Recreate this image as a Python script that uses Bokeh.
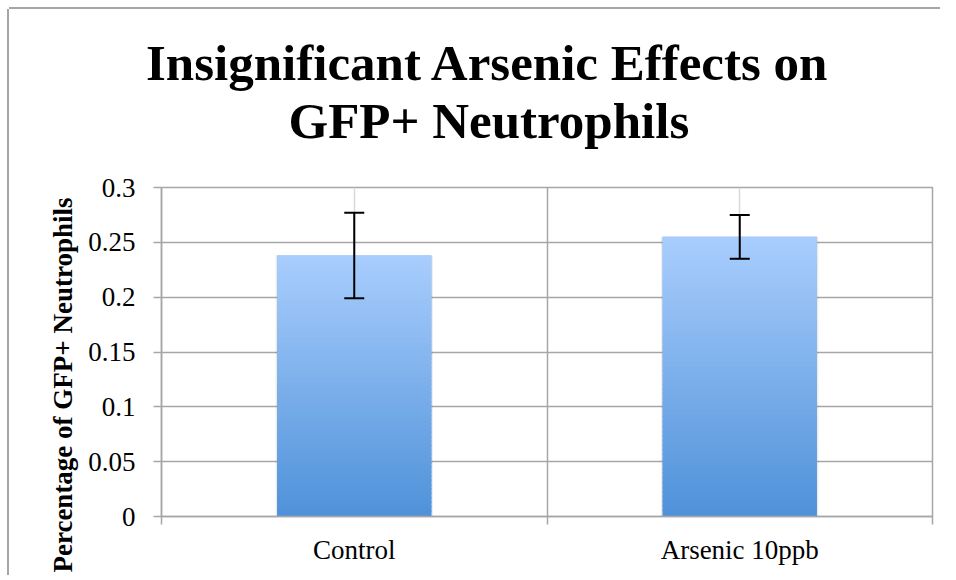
import math
from bokeh.plotting import figure
from bokeh.models import (ColumnDataSource, FactorRange, Range1d, FixedTicker,
                          LinearAxis, Grid, Whisker, TeeHead, Title)
from bokeh.embed import file_html
from bokeh.resources import INLINE

# ---------------- data ----------------
title_lines = ["Insignificant Arsenic Effects on", "GFP+ Neutrophils"]
y_axis_title = "Percentage of GFP+ Neutrophils"
categories = ["Control", "Arsenic 10ppb"]
means = [0.238, 0.255]
errors = [0.039, 0.020]
y_ticks = [0, 0.05, 0.1, 0.15, 0.2, 0.25, 0.3]
y_tick_labels = ["0", "0.05", "0.1", "0.15", "0.2", "0.25", "0.3"]
y_max = 0.3

# ---------------- style ----------------
SERIF = "Liberation Serif"
GRID = "#a6a6a6"
LIGHT_GRID = "#d9d9d9"
BAR_BOTTOM = (79, 146, 217)
BAR_TOP = (169, 205, 253)
BAR_WIDTH = 0.4
N_SLICES = 60

p = figure(x_range=FactorRange(*categories, range_padding=0),
           y_range=Range1d(0, y_max),
           width=931, height=566,
           output_backend="svg", toolbar_location=None,
           min_border_left=152, min_border_right=8,
           min_border_top=178, min_border_bottom=59,
           background_fill_color="white", border_fill_color="white")
p.margin = (9, 0, 0, 9)
# thin grey chart-area border on the top and left only
p.styles = {"box-shadow": "0px -2px 0px 0px #a6a6a6, -2px 0px 0px 0px #a6a6a6"}

p.outline_line_color = GRID
p.outline_line_width = 1.5

# y axis
p.yaxis.ticker = FixedTicker(ticks=y_ticks)
p.yaxis.major_label_overrides = {t: s for t, s in zip(y_ticks, y_tick_labels)}
p.yaxis.major_label_text_font = SERIF
p.yaxis.major_label_text_font_size = "27px"
p.yaxis.major_label_text_color = "#000000"
p.yaxis.major_label_standoff = 18
p.yaxis.major_tick_in = 0
p.yaxis.major_tick_out = 8
p.yaxis.major_tick_line_color = GRID
p.yaxis.major_tick_line_width = 1.5
p.yaxis.minor_tick_line_color = None
p.yaxis.axis_line_color = GRID
p.yaxis.axis_line_width = 1.5

# y-axis title, placed in the left panel and anchored near the top of the frame
y_title = Title(text=y_axis_title, align="right", offset=10, standoff=16,
                vertical_align="bottom",
                text_font=SERIF, text_font_style="bold", text_font_size="27px",
                text_color="#000000")
p.add_layout(y_title, "left")

# x axis (category labels)
cat_axis = p.xaxis[0]
cat_axis.axis_line_color = None
cat_axis.major_tick_line_color = None
cat_axis.major_tick_in = 0
cat_axis.major_tick_out = 0
cat_axis.major_label_text_font = SERIF
cat_axis.major_label_text_font_size = "27px"
cat_axis.major_label_text_color = "#000000"
cat_axis.major_label_standoff = 10

# boundary ticks axis between categories
bound_ticks = list(range(len(categories) + 1))
edge_axis = LinearAxis(ticker=FixedTicker(ticks=bound_ticks),
                       major_label_text_font_size="0px",
                       major_label_standoff=0,
                       major_tick_in=0, major_tick_out=8,
                       major_tick_line_color=GRID, major_tick_line_width=1.5,
                       minor_tick_line_color=None,
                       axis_line_color=GRID, axis_line_width=1.5)
p.add_layout(edge_axis, "below")
p.below = [edge_axis, cat_axis]

# grids
p.ygrid.ticker = FixedTicker(ticks=y_ticks)
p.ygrid.grid_line_color = GRID
p.ygrid.grid_line_width = 1.5
p.xgrid.grid_line_color = LIGHT_GRID
p.xgrid.grid_line_width = 1.5
p.add_layout(Grid(dimension=0, ticker=FixedTicker(ticks=bound_ticks),
                  grid_line_color=GRID, grid_line_width=1.5))

# title: two lines, stacked above a spacer next to the plot frame
spacer = Title(text=" ", text_font_size="1px", standoff=36)
title2 = Title(text=title_lines[1], align="left", offset=127, standoff=0,
               text_font=SERIF, text_font_style="bold", text_font_size="51px",
               text_color="#000000", text_line_height=0.92)
title1 = Title(text=title_lines[0], align="left", offset=-15.5, standoff=0,
               text_font=SERIF, text_font_style="bold", text_font_size="51px",
               text_color="#000000", text_line_height=0.92)
p.title.text = ""
p.above = [spacer, title2, title1]

# bar shadow
p.vbar(x=categories, top=means, width=BAR_WIDTH + 0.008,
       fill_color="#000000", fill_alpha=0.08, line_color=None)

# bars (base)
bars = ColumnDataSource(dict(cat=categories, mean=means))
p.vbar(x="cat", top="mean", width=BAR_WIDTH, source=bars,
       fill_color="#7eb1ea", line_color=None)

# gradient overlay slices derived from each bar's value
sx, sb, st, sc = [], [], [], []
for c, m in zip(categories, means):
    for k in range(N_SLICES):
        f = (k + 0.5) / N_SLICES
        rgb = tuple(round(BAR_BOTTOM[i] + (BAR_TOP[i] - BAR_BOTTOM[i]) * f) for i in range(3))
        sx.append(c)
        sb.append(m * k / N_SLICES)
        st.append(min(m * (k + 1.6) / N_SLICES, m))
        sc.append("#%02x%02x%02x" % rgb)
p.vbar(x=sx, bottom=sb, top=st, width=BAR_WIDTH, fill_color=sc, line_color=None)

# error bars
err_src = ColumnDataSource(dict(cat=categories,
                                upper=[m + e for m, e in zip(means, errors)],
                                lower=[m - e for m, e in zip(means, errors)]))
whisk = Whisker(base="cat", upper="upper", lower="lower", source=err_src,
                line_color="black", line_width=2, level="annotation",
                upper_head=TeeHead(size=20, line_color="black", line_width=2),
                lower_head=TeeHead(size=20, line_color="black", line_width=2))
p.add_layout(whisk)

open("out.html", "w").write(file_html(p, INLINE))
